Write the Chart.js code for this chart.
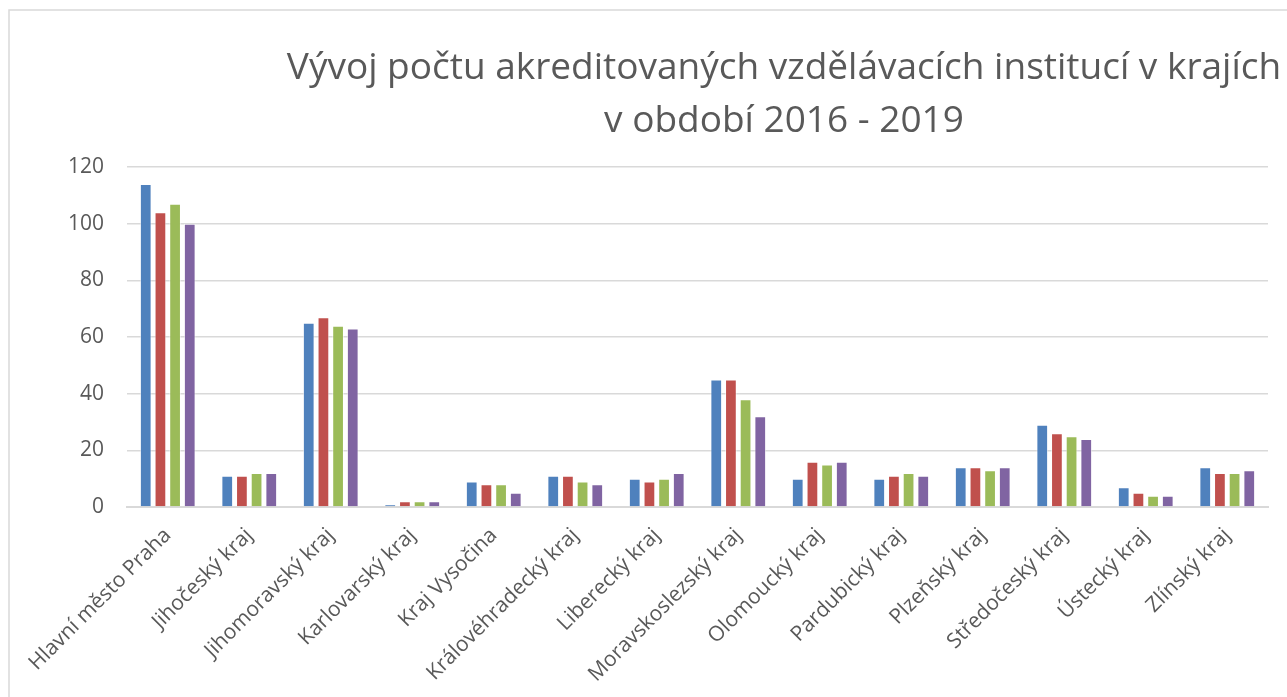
<!DOCTYPE html>
<html>
<head>
<meta charset="utf-8">
<script src="https://cdn.jsdelivr.net/npm/chart.js@4"></script>
<style>
  html, body { margin: 0; padding: 0; background: #fff; overflow: hidden; }
  #wrap { position: relative; width: 1287px; height: 697px; }
</style>
</head>
<body>
<div id="wrap"><canvas id="chart" width="1287" height="697"></canvas></div>
<script>
// kraje
const categories = [
  'Hlavní město Praha', 'Jihočeský kraj', 'Jihomoravský kraj', 'Karlovarský kraj',
  'Kraj Vysočina', 'Královéhradecký kraj', 'Liberecký kraj', 'Moravskoslezský kraj',
  'Olomoucký kraj', 'Pardubický kraj', 'Plzeňský kraj', 'Středočeský kraj',
  'Ústecký kraj', 'Zlínský kraj'
];
const years = ['2016', '2017', '2018', '2019'];
const v2016 = [114, 11, 65, 1, 9, 11, 10, 45, 10, 10, 14, 29, 7, 14];
const v2017 = [104, 11, 67, 2, 8, 11, 9, 45, 16, 11, 14, 26, 5, 12];
const v2018 = [107, 12, 64, 2, 8, 9, 10, 38, 15, 12, 13, 25, 4, 12];
const v2019 = [100, 12, 63, 2, 5, 8, 12, 32, 16, 11, 14, 24, 4, 13];
const yTicks = [0, 20, 40, 60, 80, 100, 120];
const titleLines = ['Vývoj počtu akreditovaných vzdělávacích institucí v krajích', 'v období 2016 - 2019'];

const colors = ['#4F81BD', '#C0504D', '#9BBB59', '#8064A2'];
const series = [v2016, v2017, v2018, v2019];

const frameAndTitle = {
  id: 'frameAndTitle',
  beforeDraw(chart) {
    const ctx = chart.ctx;
    ctx.save();
    ctx.strokeStyle = '#d9d9d9';
    ctx.lineWidth = 1.5;
    ctx.strokeRect(9, 10, 1400, 800);
    ctx.restore();
  },
  afterDraw(chart) {
    const ctx = chart.ctx;
    const cx = 784;
    ctx.save();
    ctx.fillStyle = '#595959';
    ctx.font = '37px "Open Sans"';
    ctx.textAlign = 'center';
    ctx.textBaseline = 'middle';
    ctx.fillText(titleLines[0], cx, 68);
    ctx.fillText(titleLines[1], cx, 121);
    ctx.restore();
  }
};

new Chart(document.getElementById('chart'), {
  type: 'bar',
  data: {
    labels: categories,
    datasets: series.map((d, i) => ({
      label: years[i],
      data: d,
      backgroundColor: colors[i],
      borderColor: 'rgba(255,255,255,0.55)',
      borderWidth: 1,
      categoryPercentage: 0.72,
      barPercentage: 0.8
    }))
  },
  options: {
    responsive: false,
    animation: false,
    devicePixelRatio: 1,
    layout: { padding: { top: 167, right: 19, left: 0, bottom: 0 } },
    plugins: {
      legend: { display: false },
      title: { display: false },
      tooltip: { enabled: false }
    },
    scales: {
      x: {
        afterFit(scale) { scale.height = 190; },
        grid: { display: false, drawTicks: false },
        border: { display: true, color: '#d9d9d9', width: 2 },
        ticks: {
          minRotation: 45,
          maxRotation: 45,
          padding: 16,
          color: '#595959',
          font: { family: 'Open Sans', size: 21 },
          autoSkip: false
        }
      },
      y: {
        min: 0,
        max: 120,
        afterFit(scale) { scale.width = 127; },
        afterBuildTicks(scale) { scale.ticks = yTicks.map(v => ({ value: v })); },
        grid: { color: '#d9d9d9', lineWidth: 1.5, drawTicks: false },
        border: { display: false },
        ticks: {
          padding: 23,
          color: '#595959',
          font: { family: 'Open Sans', size: 21 }
        }
      }
    }
  },
  plugins: [frameAndTitle]
});
</script>
</body>
</html>
